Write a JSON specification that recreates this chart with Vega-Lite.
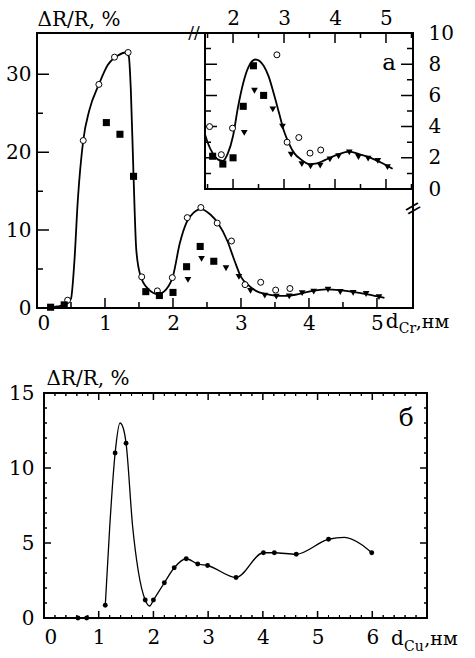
{
 "$schema": "https://vega.github.io/schema/vega-lite/v6.json",
 "background": "white",
 "padding": {"left": 5, "top": 8, "right": 5, "bottom": 5},
 "bounds": "flush",
 "spacing": 85,
 "datasets": {
  "pts": [
   {"s": "o", "x": 0.45, "y": 1.0}, {"s": "o", "x": 0.68, "y": 21.5}, {"s": "o", "x": 0.91, "y": 28.7}, {"s": "o", "x": 1.14, "y": 32.2}, {"s": "o", "x": 1.34, "y": 32.8},
   {"s": "o", "x": 1.54, "y": 4.0}, {"s": "o", "x": 1.77, "y": 2.2}, {"s": "o", "x": 1.99, "y": 3.9}, {"s": "o", "x": 2.21, "y": 11.6}, {"s": "o", "x": 2.41, "y": 12.9},
   {"s": "o", "x": 2.65, "y": 10.9}, {"s": "o", "x": 2.86, "y": 8.6}, {"s": "o", "x": 3.06, "y": 3.0}, {"s": "o", "x": 3.29, "y": 3.3}, {"s": "o", "x": 3.51, "y": 2.3}, {"s": "o", "x": 3.72, "y": 2.5},
   {"s": "sq", "x": 0.2, "y": 0.1}, {"s": "sq", "x": 0.4, "y": 0.4}, {"s": "sq", "x": 1.02, "y": 23.8}, {"s": "sq", "x": 1.22, "y": 22.3}, {"s": "sq", "x": 1.42, "y": 16.9},
   {"s": "sq", "x": 1.6, "y": 2.1}, {"s": "sq", "x": 1.8, "y": 1.6}, {"s": "sq", "x": 2.0, "y": 2.0}, {"s": "sq", "x": 2.2, "y": 5.3}, {"s": "sq", "x": 2.4, "y": 7.9}, {"s": "sq", "x": 2.6, "y": 6.0},
   {"s": "tr", "x": 2.22, "y": 3.6}, {"s": "tr", "x": 2.42, "y": 6.3}, {"s": "tr", "x": 2.78, "y": 5.1}, {"s": "tr", "x": 2.97, "y": 4.0}, {"s": "tr", "x": 3.14, "y": 2.2},
   {"s": "tr", "x": 3.35, "y": 1.6}, {"s": "tr", "x": 3.52, "y": 1.45}, {"s": "tr", "x": 3.71, "y": 1.5}, {"s": "tr", "x": 3.9, "y": 1.9}, {"s": "tr", "x": 4.07, "y": 2.1},
   {"s": "tr", "x": 4.28, "y": 2.35}, {"s": "tr", "x": 4.46, "y": 2.05}, {"s": "tr", "x": 4.65, "y": 1.95}, {"s": "tr", "x": 4.84, "y": 1.8}, {"s": "tr", "x": 5.03, "y": 1.4}
  ],
  "curveA": [
   {"x": 0.17, "y": 0.05}, {"x": 0.3, "y": 0.2}, {"x": 0.43, "y": 0.5}, {"x": 0.5, "y": 1.2}, {"x": 0.55, "y": 6}, {"x": 0.6, "y": 13.8}, {"x": 0.68, "y": 21.5},
   {"x": 0.77, "y": 25.4}, {"x": 0.91, "y": 28.7}, {"x": 1.04, "y": 31.2}, {"x": 1.19, "y": 32.4}, {"x": 1.3, "y": 32.8}, {"x": 1.35, "y": 32.3}, {"x": 1.38, "y": 28},
   {"x": 1.42, "y": 16.9}, {"x": 1.46, "y": 7.5}, {"x": 1.52, "y": 4.2}, {"x": 1.63, "y": 2.5}, {"x": 1.78, "y": 1.8}, {"x": 1.9, "y": 2.4}, {"x": 2.0, "y": 4.1},
   {"x": 2.1, "y": 8.3}, {"x": 2.2, "y": 11.0}, {"x": 2.3, "y": 12.2}, {"x": 2.41, "y": 12.7}, {"x": 2.55, "y": 12.0}, {"x": 2.66, "y": 10.9}, {"x": 2.8, "y": 8.6},
   {"x": 2.9, "y": 6.2}, {"x": 3.0, "y": 4.0}, {"x": 3.1, "y": 3.0}, {"x": 3.22, "y": 2.2}, {"x": 3.36, "y": 1.8}, {"x": 3.5, "y": 1.6}, {"x": 3.64, "y": 1.55},
   {"x": 3.8, "y": 1.7}, {"x": 4.0, "y": 2.1}, {"x": 4.25, "y": 2.4}, {"x": 4.45, "y": 2.3}, {"x": 4.62, "y": 2.1}, {"x": 4.86, "y": 1.75}, {"x": 5.11, "y": 1.3}
  ],
  "curveB": [
   {"x": 1.45, "y": 3.5}, {"x": 1.5, "y": 3.0}, {"x": 1.6, "y": 2.3}, {"x": 1.7, "y": 1.9}, {"x": 1.8, "y": 1.8}, {"x": 1.9, "y": 2.3}, {"x": 2.0, "y": 3.4},
   {"x": 2.1, "y": 5.3}, {"x": 2.2, "y": 6.8}, {"x": 2.3, "y": 7.8}, {"x": 2.44, "y": 8.3}, {"x": 2.52, "y": 8.2}, {"x": 2.6, "y": 7.9}, {"x": 2.7, "y": 7.2},
   {"x": 2.8, "y": 6.1}, {"x": 2.9, "y": 4.9}, {"x": 3.0, "y": 3.7}, {"x": 3.1, "y": 2.9}, {"x": 3.2, "y": 2.3}, {"x": 3.33, "y": 1.9}, {"x": 3.5, "y": 1.6},
   {"x": 3.65, "y": 1.65}, {"x": 3.8, "y": 1.85}, {"x": 4.05, "y": 2.2}, {"x": 4.28, "y": 2.4}, {"x": 4.5, "y": 2.2}, {"x": 4.7, "y": 2.0}, {"x": 4.9, "y": 1.7}, {"x": 5.13, "y": 1.3}
  ],
  "curveC": [
   {"x": 1.12, "y": 0.85}, {"x": 1.2, "y": 6.0}, {"x": 1.3, "y": 11.0}, {"x": 1.39, "y": 13.0}, {"x": 1.46, "y": 12.5}, {"x": 1.5, "y": 11.65}, {"x": 1.62, "y": 6.1},
   {"x": 1.72, "y": 3.2}, {"x": 1.85, "y": 1.2}, {"x": 1.93, "y": 0.8}, {"x": 2.0, "y": 1.2}, {"x": 2.2, "y": 2.35}, {"x": 2.38, "y": 3.35}, {"x": 2.6, "y": 3.95},
   {"x": 2.81, "y": 3.6}, {"x": 2.99, "y": 3.5}, {"x": 3.51, "y": 2.7}, {"x": 4.01, "y": 4.35}, {"x": 4.21, "y": 4.35}, {"x": 4.61, "y": 4.25}, {"x": 5.2, "y": 5.25},
   {"x": 5.49, "y": 5.37}, {"x": 5.8, "y": 4.9}, {"x": 5.99, "y": 4.35}
  ],
  "ptsC": [
   {"x": 0.62, "y": 0}, {"x": 0.78, "y": 0}, {"x": 1.12, "y": 0.85}, {"x": 1.3, "y": 11.0}, {"x": 1.5, "y": 11.65}, {"x": 1.85, "y": 1.2}, {"x": 2.0, "y": 1.2},
   {"x": 2.2, "y": 2.35}, {"x": 2.38, "y": 3.35}, {"x": 2.6, "y": 3.95}, {"x": 2.81, "y": 3.6}, {"x": 2.99, "y": 3.5}, {"x": 3.51, "y": 2.7}, {"x": 4.01, "y": 4.35},
   {"x": 4.21, "y": 4.35}, {"x": 4.61, "y": 4.25}, {"x": 5.2, "y": 5.25}, {"x": 5.99, "y": 4.35}
  ],
  "tMx1": [{"v": 1}, {"v": 2}, {"v": 3}, {"v": 4}, {"v": 5}],
  "tMx2": [{"v": 0.5}, {"v": 1.5}, {"v": 2.5}, {"v": 3.5}, {"v": 4.5}],
  "tMy1": [{"v": 10}, {"v": 20}, {"v": 30}],
  "tMy2": [{"v": 5}, {"v": 15}, {"v": 25}],
  "tIx1": [{"v": 2}, {"v": 3}, {"v": 4}, {"v": 5}],
  "tIx2": [{"v": 1.5}, {"v": 2.5}, {"v": 3.5}, {"v": 4.5}, {"v": 5.5}],
  "tIy1": [{"v": 2}, {"v": 4}, {"v": 6}, {"v": 8}],
  "tIy2": [{"v": 1}, {"v": 3}, {"v": 5}, {"v": 7}, {"v": 9}],
  "tBx1": [{"v": 1}, {"v": 2}, {"v": 3}, {"v": 4}, {"v": 5}, {"v": 6}],
  "tBx2": [{"v": 0.2}, {"v": 0.4}, {"v": 0.6}, {"v": 0.8}, {"v": 1.2}, {"v": 1.4}, {"v": 1.6}, {"v": 1.8}, {"v": 2.2}, {"v": 2.4}, {"v": 2.6}, {"v": 2.8}, {"v": 3.2}, {"v": 3.4}, {"v": 3.6}, {"v": 3.8}, {"v": 4.2}, {"v": 4.4}, {"v": 4.6}, {"v": 4.8}, {"v": 5.2}, {"v": 5.4}, {"v": 5.6}, {"v": 5.8}, {"v": 6.2}, {"v": 6.4}, {"v": 6.6}, {"v": 6.8}],
  "tBy1": [{"v": 5}, {"v": 10}],
  "tBy2": [{"v": 1}, {"v": 2}, {"v": 3}, {"v": 4}, {"v": 6}, {"v": 7}, {"v": 8}, {"v": 9}, {"v": 11}, {"v": 12}, {"v": 13}, {"v": 14}]
 },
 "config": {
  "view": {"stroke": null},
  "axis": {"labelFont": "DejaVu Serif", "labelFontSize": 20, "labelColor": "black", "ticks": false, "domain": false, "grid": false, "titleFont": "DejaVu Serif", "titleFontSize": 20, "titleFontWeight": "normal", "titleColor": "black"},
  "text": {"font": "DejaVu Serif", "color": "black"},
  "rect": {"filled": false, "stroke": "black", "strokeWidth": 1.5}
 },
 "vconcat": [
  {
   "width": 376, "height": 275,
   "resolve": {"scale": {"x": "independent", "y": "independent"}, "axis": {"x": "independent", "y": "independent"}},
   "layer": [
    {
     "resolve": {"axis": {"x": "independent", "y": "independent"}},
     "layer": [
      {"data": {"values": [{}]}, "mark": {"type": "rect", "filled": false, "stroke": "black", "strokeWidth": 2},
       "encoding": {
        "x": {"datum": 0, "type": "quantitative", "scale": {"domain": [0, 5.53], "nice": false, "zero": false}, "axis": {"orient": "bottom", "values": [0, 1, 2, 3, 4, 5], "labelPadding": 5, "title": null}},
        "x2": {"datum": 5.53},
        "y": {"datum": 0, "type": "quantitative", "scale": {"domain": [0, 35.3], "nice": false, "zero": false}, "axis": {"orient": "left", "values": [0, 10, 20, 30], "labelPadding": 6, "title": "ΔR/R, %", "titleAngle": 0, "titleAlign": "left", "titleBaseline": "alphabetic", "titleX": 0, "titleY": -8}},
        "y2": {"datum": 35.3}
       }},
      {"data": {"name": "tMx1"}, "mark": "rect",
       "encoding": {
        "x": {"field": "v", "type": "quantitative", "scale": {"domain": [0, 5.53], "nice": false, "zero": false}, "axis": null}, "x2": {"field": "v"},
        "y": {"datum": 0, "type": "quantitative", "scale": {"domain": [0, 35.3], "nice": false, "zero": false}, "axis": null}, "y2": {"datum": 1.28}
       }},
      {"data": {"name": "tMx2"}, "mark": "rect",
       "encoding": {
        "x": {"field": "v", "type": "quantitative", "scale": {"domain": [0, 5.53], "nice": false, "zero": false}, "axis": null}, "x2": {"field": "v"},
        "y": {"datum": 0, "type": "quantitative", "scale": {"domain": [0, 35.3], "nice": false, "zero": false}, "axis": null}, "y2": {"datum": 0.77}
       }},
      {"data": {"name": "tMy1"}, "mark": "rect",
       "encoding": {
        "y": {"field": "v", "type": "quantitative", "scale": {"domain": [0, 35.3], "nice": false, "zero": false}, "axis": null}, "y2": {"field": "v"},
        "x": {"datum": 0, "type": "quantitative", "scale": {"domain": [0, 5.53], "nice": false, "zero": false}, "axis": null}, "x2": {"datum": 0.176}
       }},
      {"data": {"name": "tMy2"}, "mark": "rect",
       "encoding": {
        "y": {"field": "v", "type": "quantitative", "scale": {"domain": [0, 35.3], "nice": false, "zero": false}, "axis": null}, "y2": {"field": "v"},
        "x": {"datum": 0, "type": "quantitative", "scale": {"domain": [0, 5.53], "nice": false, "zero": false}, "axis": null}, "x2": {"datum": 0.088}
       }},
      {"data": {"name": "curveA"}, "mark": {"type": "line", "interpolate": "monotone", "strokeWidth": 1.8, "color": "black"},
       "encoding": {
        "x": {"field": "x", "type": "quantitative", "scale": {"domain": [0, 5.53], "nice": false, "zero": false}, "axis": null},
        "y": {"field": "y", "type": "quantitative", "scale": {"domain": [0, 35.3], "nice": false, "zero": false}, "axis": null}
       }},
      {"data": {"name": "pts"}, "transform": [{"filter": "datum.s == 'o'"}],
       "mark": {"type": "point", "shape": "circle", "filled": true, "fill": "white", "stroke": "black", "strokeWidth": 1, "size": 36, "opacity": 1},
       "encoding": {
        "x": {"field": "x", "type": "quantitative", "scale": {"domain": [0, 5.53], "nice": false, "zero": false}, "axis": null},
        "y": {"field": "y", "type": "quantitative", "scale": {"domain": [0, 35.3], "nice": false, "zero": false}, "axis": null}
       }},
      {"data": {"name": "pts"}, "transform": [{"filter": "datum.s == 'sq'"}],
       "mark": {"type": "square", "color": "black", "size": 50, "opacity": 1},
       "encoding": {
        "x": {"field": "x", "type": "quantitative", "scale": {"domain": [0, 5.53], "nice": false, "zero": false}, "axis": null},
        "y": {"field": "y", "type": "quantitative", "scale": {"domain": [0, 35.3], "nice": false, "zero": false}, "axis": null}
       }},
      {"data": {"name": "pts"}, "transform": [{"filter": "datum.s == 'tr'"}],
       "mark": {"type": "point", "shape": "triangle-down", "filled": true, "color": "black", "size": 45, "opacity": 1},
       "encoding": {
        "x": {"field": "x", "type": "quantitative", "scale": {"domain": [0, 5.53], "nice": false, "zero": false}, "axis": null},
        "y": {"field": "y", "type": "quantitative", "scale": {"domain": [0, 35.3], "nice": false, "zero": false}, "axis": null}
       }},
      {"data": {"values": [{}]}, "mark": {"type": "text", "text": "//", "fontSize": 17, "align": "center", "baseline": "middle"},
       "encoding": {
        "x": {"datum": 2.31, "type": "quantitative", "scale": {"domain": [0, 5.53], "nice": false, "zero": false}, "axis": null},
        "y": {"datum": 35.3, "type": "quantitative", "scale": {"domain": [0, 35.3], "nice": false, "zero": false}, "axis": null}
       }},
      {"data": {"values": [{}]}, "mark": {"type": "text", "text": "=", "fontSize": 22, "align": "center", "baseline": "middle", "angle": -30},
       "encoding": {
        "x": {"datum": 5.53, "type": "quantitative", "scale": {"domain": [0, 5.53], "nice": false, "zero": false}, "axis": null},
        "y": {"datum": 12.8, "type": "quantitative", "scale": {"domain": [0, 35.3], "nice": false, "zero": false}, "axis": null}
       }},
      {"data": {"values": [{}]}, "mark": {"type": "text", "text": "d", "fontSize": 20, "align": "left", "baseline": "alphabetic"},
       "encoding": {
        "x": {"datum": 5.13, "type": "quantitative", "scale": {"domain": [0, 5.53], "nice": false, "zero": false}, "axis": null},
        "y": {"datum": -2.56, "type": "quantitative", "scale": {"domain": [0, 35.3], "nice": false, "zero": false}, "axis": null}
       }},
      {"data": {"values": [{}]}, "mark": {"type": "text", "text": "Cr", "fontSize": 14, "align": "left", "baseline": "alphabetic"},
       "encoding": {
        "x": {"datum": 5.32, "type": "quantitative", "scale": {"domain": [0, 5.53], "nice": false, "zero": false}, "axis": null},
        "y": {"datum": -3.2, "type": "quantitative", "scale": {"domain": [0, 35.3], "nice": false, "zero": false}, "axis": null}
       }},
      {"data": {"values": [{}]}, "mark": {"type": "text", "text": ",нм", "fontSize": 19, "align": "left", "baseline": "alphabetic"},
       "encoding": {
        "x": {"datum": 5.57, "type": "quantitative", "scale": {"domain": [0, 5.53], "nice": false, "zero": false}, "axis": null},
        "y": {"datum": -2.56, "type": "quantitative", "scale": {"domain": [0, 35.3], "nice": false, "zero": false}, "axis": null}
       }}
     ]
    },
    {
     "resolve": {"axis": {"x": "independent", "y": "independent"}},
     "layer": [
      {"data": {"values": [{}]}, "mark": {"type": "rect", "filled": true, "fill": "white", "stroke": "black", "strokeWidth": 2},
       "encoding": {
        "x": {"datum": 1.45, "type": "quantitative", "scale": {"domain": [1.45, 5.53], "range": [168, 376], "nice": false, "zero": false}, "axis": {"orient": "top", "values": [2, 3, 4, 5], "labelPadding": 5, "title": null}},
        "x2": {"datum": 5.53},
        "y": {"datum": 0, "type": "quantitative", "scale": {"domain": [0, 10], "range": [156, 0], "nice": false, "zero": false}, "axis": {"orient": "right", "values": [0, 2, 4, 6, 8, 10], "labelPadding": 15, "title": null}},
        "y2": {"datum": 10}
       }},
      {"data": {"name": "tIx1"}, "mark": "rect",
       "encoding": {
        "x": {"field": "v", "type": "quantitative", "scale": {"domain": [1.45, 5.53], "range": [168, 376], "nice": false, "zero": false}, "axis": null}, "x2": {"field": "v"},
        "y": {"datum": 0, "type": "quantitative", "scale": {"domain": [0, 10], "range": [156, 0], "nice": false, "zero": false}, "axis": null}, "y2": {"datum": 0.64}
       }},
      {"data": {"name": "tIx2"}, "mark": "rect",
       "encoding": {
        "x": {"field": "v", "type": "quantitative", "scale": {"domain": [1.45, 5.53], "range": [168, 376], "nice": false, "zero": false}, "axis": null}, "x2": {"field": "v"},
        "y": {"datum": 0, "type": "quantitative", "scale": {"domain": [0, 10], "range": [156, 0], "nice": false, "zero": false}, "axis": null}, "y2": {"datum": 0.32}
       }},
      {"data": {"name": "tIx1"}, "mark": "rect",
       "encoding": {
        "x": {"field": "v", "type": "quantitative", "scale": {"domain": [1.45, 5.53], "range": [168, 376], "nice": false, "zero": false}, "axis": null}, "x2": {"field": "v"},
        "y": {"datum": 9.36, "type": "quantitative", "scale": {"domain": [0, 10], "range": [156, 0], "nice": false, "zero": false}, "axis": null}, "y2": {"datum": 10}
       }},
      {"data": {"name": "tIx2"}, "mark": "rect",
       "encoding": {
        "x": {"field": "v", "type": "quantitative", "scale": {"domain": [1.45, 5.53], "range": [168, 376], "nice": false, "zero": false}, "axis": null}, "x2": {"field": "v"},
        "y": {"datum": 9.68, "type": "quantitative", "scale": {"domain": [0, 10], "range": [156, 0], "nice": false, "zero": false}, "axis": null}, "y2": {"datum": 10}
       }},
      {"data": {"name": "tIy1"}, "mark": "rect",
       "encoding": {
        "y": {"field": "v", "type": "quantitative", "scale": {"domain": [0, 10], "range": [156, 0], "nice": false, "zero": false}, "axis": null}, "y2": {"field": "v"},
        "x": {"datum": 1.45, "type": "quantitative", "scale": {"domain": [1.45, 5.53], "range": [168, 376], "nice": false, "zero": false}, "axis": null}, "x2": {"datum": 1.685}
       }},
      {"data": {"name": "tIy2"}, "mark": "rect",
       "encoding": {
        "y": {"field": "v", "type": "quantitative", "scale": {"domain": [0, 10], "range": [156, 0], "nice": false, "zero": false}, "axis": null}, "y2": {"field": "v"},
        "x": {"datum": 1.45, "type": "quantitative", "scale": {"domain": [1.45, 5.53], "range": [168, 376], "nice": false, "zero": false}, "axis": null}, "x2": {"datum": 1.568}
       }},
      {"data": {"name": "tIy1"}, "mark": "rect",
       "encoding": {
        "y": {"field": "v", "type": "quantitative", "scale": {"domain": [0, 10], "range": [156, 0], "nice": false, "zero": false}, "axis": null}, "y2": {"field": "v"},
        "x": {"datum": 5.295, "type": "quantitative", "scale": {"domain": [1.45, 5.53], "range": [168, 376], "nice": false, "zero": false}, "axis": null}, "x2": {"datum": 5.53}
       }},
      {"data": {"name": "tIy2"}, "mark": "rect",
       "encoding": {
        "y": {"field": "v", "type": "quantitative", "scale": {"domain": [0, 10], "range": [156, 0], "nice": false, "zero": false}, "axis": null}, "y2": {"field": "v"},
        "x": {"datum": 5.412, "type": "quantitative", "scale": {"domain": [1.45, 5.53], "range": [168, 376], "nice": false, "zero": false}, "axis": null}, "x2": {"datum": 5.53}
       }},
      {"data": {"name": "curveB"}, "mark": {"type": "line", "interpolate": "monotone", "strokeWidth": 1.8, "color": "black"},
       "encoding": {
        "x": {"field": "x", "type": "quantitative", "scale": {"domain": [1.45, 5.53], "range": [168, 376], "nice": false, "zero": false}, "axis": null},
        "y": {"field": "y", "type": "quantitative", "scale": {"domain": [0, 10], "range": [156, 0], "nice": false, "zero": false}, "axis": null}
       }},
      {"data": {"name": "pts"}, "transform": [{"filter": "datum.s == 'o' && datum.x >= 1.45 && datum.y <= 10"}],
       "mark": {"type": "point", "shape": "circle", "filled": true, "fill": "white", "stroke": "black", "strokeWidth": 1, "size": 36, "opacity": 1},
       "encoding": {
        "x": {"field": "x", "type": "quantitative", "scale": {"domain": [1.45, 5.53], "range": [168, 376], "nice": false, "zero": false}, "axis": null},
        "y": {"field": "y", "type": "quantitative", "scale": {"domain": [0, 10], "range": [156, 0], "nice": false, "zero": false}, "axis": null}
       }},
      {"data": {"name": "pts"}, "transform": [{"filter": "datum.s == 'sq' && datum.x >= 1.45 && datum.y <= 10"}],
       "mark": {"type": "square", "color": "black", "size": 50, "opacity": 1},
       "encoding": {
        "x": {"field": "x", "type": "quantitative", "scale": {"domain": [1.45, 5.53], "range": [168, 376], "nice": false, "zero": false}, "axis": null},
        "y": {"field": "y", "type": "quantitative", "scale": {"domain": [0, 10], "range": [156, 0], "nice": false, "zero": false}, "axis": null}
       }},
      {"data": {"name": "pts"}, "transform": [{"filter": "datum.s == 'tr' && datum.x >= 1.45 && datum.y <= 10"}],
       "mark": {"type": "point", "shape": "triangle-down", "filled": true, "color": "black", "size": 45, "opacity": 1},
       "encoding": {
        "x": {"field": "x", "type": "quantitative", "scale": {"domain": [1.45, 5.53], "range": [168, 376], "nice": false, "zero": false}, "axis": null},
        "y": {"field": "y", "type": "quantitative", "scale": {"domain": [0, 10], "range": [156, 0], "nice": false, "zero": false}, "axis": null}
       }},
      {"data": {"values": [{}]}, "mark": {"type": "text", "text": "a", "fontSize": 23, "align": "center", "baseline": "middle"},
       "encoding": {
        "x": {"datum": 5.06, "type": "quantitative", "scale": {"domain": [1.45, 5.53], "range": [168, 376], "nice": false, "zero": false}, "axis": null},
        "y": {"datum": 8.1, "type": "quantitative", "scale": {"domain": [0, 10], "range": [156, 0], "nice": false, "zero": false}, "axis": null}
       }}
     ]
    }
   ]
  },
  {
   "spacing": 0,
   "bounds": "flush",
   "hconcat": [
    {"width": 7, "height": 225, "data": {"values": []}, "mark": "point", "encoding": {}},
    {
     "width": 383, "height": 225,
     "resolve": {"axis": {"x": "independent", "y": "independent"}},
     "layer": [
      {"data": {"values": [{}]}, "mark": {"type": "rect", "filled": false, "stroke": "black", "strokeWidth": 2},
       "encoding": {
        "x": {"datum": 0, "type": "quantitative", "scale": {"domain": [0, 7], "nice": false, "zero": false}, "axis": {"orient": "bottom", "values": [0, 1, 2, 3, 4, 5, 6], "labelPadding": 9, "title": null}},
        "x2": {"datum": 7},
        "y": {"datum": 0, "type": "quantitative", "scale": {"domain": [0, 15], "nice": false, "zero": false}, "axis": {"orient": "left", "values": [0, 5, 10, 15], "labelPadding": 10, "title": "ΔR/R, %", "titleAngle": 0, "titleAlign": "left", "titleBaseline": "alphabetic", "titleX": 2, "titleY": -9}},
        "y2": {"datum": 15}
       }},
      {"data": {"name": "tBx1"}, "mark": "rect",
       "encoding": {
        "x": {"field": "v", "type": "quantitative", "scale": {"domain": [0, 7], "nice": false, "zero": false}, "axis": null}, "x2": {"field": "v"},
        "y": {"datum": 0, "type": "quantitative", "scale": {"domain": [0, 15], "nice": false, "zero": false}, "axis": null}, "y2": {"datum": 0.47}
       }},
      {"data": {"name": "tBx2"}, "mark": {"type": "rect", "strokeWidth": 1},
       "encoding": {
        "x": {"field": "v", "type": "quantitative", "scale": {"domain": [0, 7], "nice": false, "zero": false}, "axis": null}, "x2": {"field": "v"},
        "y": {"datum": 0, "type": "quantitative", "scale": {"domain": [0, 15], "nice": false, "zero": false}, "axis": null}, "y2": {"datum": 0.2}
       }},
      {"data": {"name": "tBx1"}, "mark": "rect",
       "encoding": {
        "x": {"field": "v", "type": "quantitative", "scale": {"domain": [0, 7], "nice": false, "zero": false}, "axis": null}, "x2": {"field": "v"},
        "y": {"datum": 14.53, "type": "quantitative", "scale": {"domain": [0, 15], "nice": false, "zero": false}, "axis": null}, "y2": {"datum": 15}
       }},
      {"data": {"name": "tBx2"}, "mark": {"type": "rect", "strokeWidth": 1},
       "encoding": {
        "x": {"field": "v", "type": "quantitative", "scale": {"domain": [0, 7], "nice": false, "zero": false}, "axis": null}, "x2": {"field": "v"},
        "y": {"datum": 14.8, "type": "quantitative", "scale": {"domain": [0, 15], "nice": false, "zero": false}, "axis": null}, "y2": {"datum": 15}
       }},
      {"data": {"name": "tBy1"}, "mark": "rect",
       "encoding": {
        "y": {"field": "v", "type": "quantitative", "scale": {"domain": [0, 15], "nice": false, "zero": false}, "axis": null}, "y2": {"field": "v"},
        "x": {"datum": 0, "type": "quantitative", "scale": {"domain": [0, 7], "nice": false, "zero": false}, "axis": null}, "x2": {"datum": 0.128}
       }},
      {"data": {"name": "tBy2"}, "mark": {"type": "rect", "strokeWidth": 1},
       "encoding": {
        "y": {"field": "v", "type": "quantitative", "scale": {"domain": [0, 15], "nice": false, "zero": false}, "axis": null}, "y2": {"field": "v"},
        "x": {"datum": 0, "type": "quantitative", "scale": {"domain": [0, 7], "nice": false, "zero": false}, "axis": null}, "x2": {"datum": 0.055}
       }},
      {"data": {"name": "tBy1"}, "mark": "rect",
       "encoding": {
        "y": {"field": "v", "type": "quantitative", "scale": {"domain": [0, 15], "nice": false, "zero": false}, "axis": null}, "y2": {"field": "v"},
        "x": {"datum": 6.872, "type": "quantitative", "scale": {"domain": [0, 7], "nice": false, "zero": false}, "axis": null}, "x2": {"datum": 7}
       }},
      {"data": {"name": "tBy2"}, "mark": {"type": "rect", "strokeWidth": 1},
       "encoding": {
        "y": {"field": "v", "type": "quantitative", "scale": {"domain": [0, 15], "nice": false, "zero": false}, "axis": null}, "y2": {"field": "v"},
        "x": {"datum": 6.945, "type": "quantitative", "scale": {"domain": [0, 7], "nice": false, "zero": false}, "axis": null}, "x2": {"datum": 7}
       }},
      {"data": {"name": "curveC"}, "mark": {"type": "line", "interpolate": "monotone", "strokeWidth": 1.3, "color": "black"},
       "encoding": {
        "x": {"field": "x", "type": "quantitative", "scale": {"domain": [0, 7], "nice": false, "zero": false}, "axis": null},
        "y": {"field": "y", "type": "quantitative", "scale": {"domain": [0, 15], "nice": false, "zero": false}, "axis": null}
       }},
      {"data": {"name": "ptsC"}, "mark": {"type": "point", "shape": "circle", "filled": true, "color": "black", "size": 24, "opacity": 1},
       "encoding": {
        "x": {"field": "x", "type": "quantitative", "scale": {"domain": [0, 7], "nice": false, "zero": false}, "axis": null},
        "y": {"field": "y", "type": "quantitative", "scale": {"domain": [0, 15], "nice": false, "zero": false}, "axis": null}
       }},
      {"data": {"values": [{}]}, "mark": {"type": "text", "text": "б", "fontSize": 25, "align": "center", "baseline": "middle"},
       "encoding": {
        "x": {"datum": 6.62, "type": "quantitative", "scale": {"domain": [0, 7], "nice": false, "zero": false}, "axis": null},
        "y": {"datum": 13.34, "type": "quantitative", "scale": {"domain": [0, 15], "nice": false, "zero": false}, "axis": null}
       }},
      {"data": {"values": [{}]}, "mark": {"type": "text", "text": "d", "fontSize": 20, "align": "left", "baseline": "alphabetic"},
       "encoding": {
        "x": {"datum": 6.34, "type": "quantitative", "scale": {"domain": [0, 7], "nice": false, "zero": false}, "axis": null},
        "y": {"datum": -1.82, "type": "quantitative", "scale": {"domain": [0, 15], "nice": false, "zero": false}, "axis": null}
       }},
      {"data": {"values": [{}]}, "mark": {"type": "text", "text": "Cu", "fontSize": 14, "align": "left", "baseline": "alphabetic"},
       "encoding": {
        "x": {"datum": 6.58, "type": "quantitative", "scale": {"domain": [0, 7], "nice": false, "zero": false}, "axis": null},
        "y": {"datum": -2.22, "type": "quantitative", "scale": {"domain": [0, 15], "nice": false, "zero": false}, "axis": null}
       }},
      {"data": {"values": [{}]}, "mark": {"type": "text", "text": ",нм", "fontSize": 19, "align": "left", "baseline": "alphabetic"},
       "encoding": {
        "x": {"datum": 6.95, "type": "quantitative", "scale": {"domain": [0, 7], "nice": false, "zero": false}, "axis": null},
        "y": {"datum": -1.82, "type": "quantitative", "scale": {"domain": [0, 15], "nice": false, "zero": false}, "axis": null}
       }}
     ]
    }
   ]
  }
 ]
}
